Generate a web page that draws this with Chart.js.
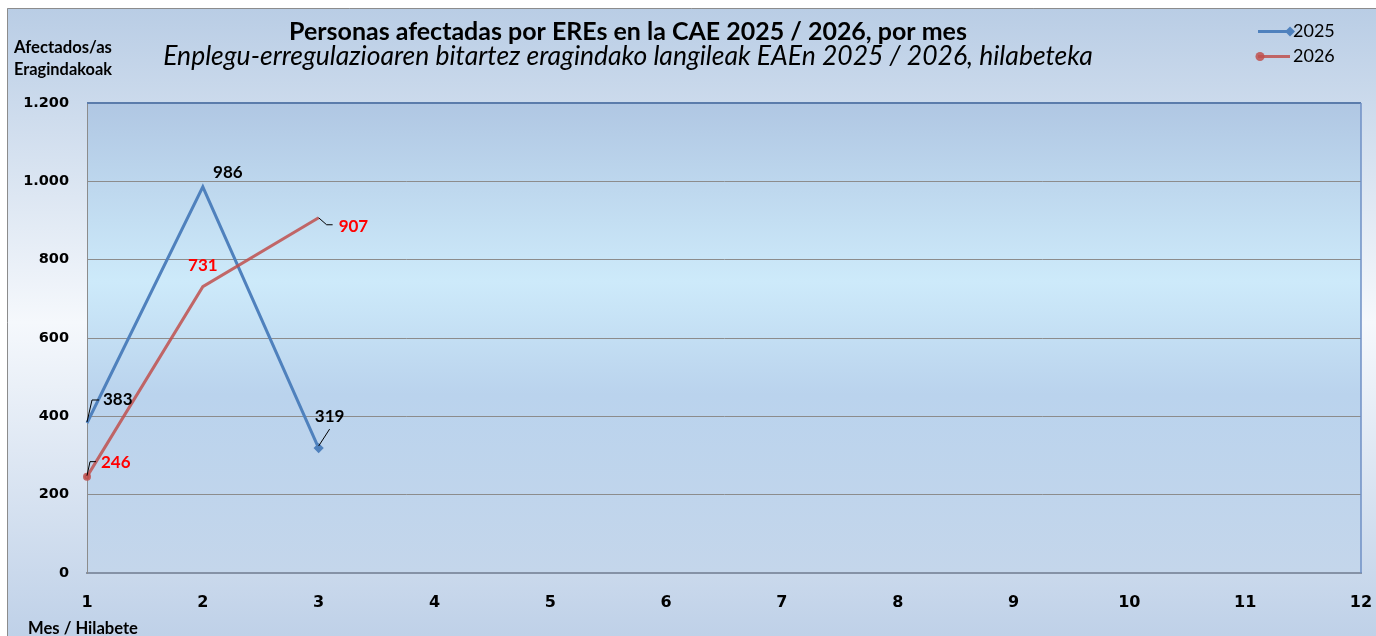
<!DOCTYPE html>
<html>
<head>
<meta charset="utf-8">
<script src="https://cdn.jsdelivr.net/npm/chart.js@4.4.1/dist/chart.umd.min.js"></script>
<style>
  html, body { margin: 0; padding: 0; background: #fff; }
  #wrap { width: 1376px; height: 636px; position: relative; }
</style>
</head>
<body>
<div id="wrap"><canvas id="chart" width="1376" height="636"></canvas></div>
<script>
// data
const months = ['1', '2', '3', '4', '5', '6', '7', '8', '9', '10', '11', '12'];
const yTicks = [0, 200, 400, 600, 800, 1000, 1200];
const seriesNames = ['2025', '2026'];
const values2025 = [383, 986, 319];
const values2026 = [246, 731, 907];

const titleText = 'Personas afectadas por EREs en la CAE 2025 / 2026, por mes';
const subtitleText = 'Enplegu-erregulazioaren bitartez eragindako langileak EAEn 2025 / 2026, hilabeteka';
const yTitleLines = ['Afectados/as', 'Eragindakoak'];
const xTitleText = 'Mes / Hilabete';

// label placement relative to each point (style only)
const labelPos2025 = [
  { dx: 16, dy: -23, align: 'left', leader: [[0, -1], [5, -23], [12, -23]] },
  { dx: 25, dy: -14, align: 'center' },
  { dx: 11, dy: -32, align: 'center', leader: [[0, -2], [11, -19]] }
];
const labelPos2026 = [
  { dx: 14, dy: -14, align: 'left', leader: [[0, -1], [3, -15], [9, -15]] },
  { dx: 0, dy: -21, align: 'center' },
  { dx: 20, dy: 9, align: 'left', leader: [[0, 0], [8, 7], [14, 7]] }
];
const labelColors = ['#000000', '#ff0000'];

const BLUE = '#4f81bd';
const RED = 'rgba(192,80,77,0.85)';
const CAL = 'Lato, "Open Sans", sans-serif';
const AX = '"DejaVu Sans", Verdana, sans-serif';

function fmt(v) {
  if (v >= 1000) return Math.floor(v / 1000) + '.' + String(v % 1000).padStart(3, '0');
  return String(v);
}

function fitText(ctx, text, style, target, cx, baseline, align) {
  ctx.font = style + ' 20px ' + CAL;
  const w = ctx.measureText(text).width;
  const size = 20 * target / w;
  ctx.font = style + ' ' + size.toFixed(2) + 'px ' + CAL;
  ctx.textAlign = align || 'center';
  ctx.textBaseline = 'alphabetic';
  ctx.fillText(text, cx, baseline);
}

const decor = {
  id: 'decor',
  beforeDraw(chart) {
    const { ctx, chartArea: a } = chart;
    ctx.save();
    ctx.fillStyle = '#ffffff';
    ctx.fillRect(0, 0, chart.width, chart.height);
    const g = ctx.createLinearGradient(0, 8, 0, 636);
    g.addColorStop(0, '#b9cde5');
    g.addColorStop(0.5, '#f5f8fc');
    g.addColorStop(1, '#bfd1e8');
    ctx.fillStyle = g;
    ctx.fillRect(7, 8, chart.width, chart.height);
    ctx.strokeStyle = '#8c8c8c';
    ctx.lineWidth = 1;
    ctx.beginPath();
    ctx.moveTo(7.5, chart.height);
    ctx.lineTo(7.5, 8.5);
    ctx.lineTo(chart.width, 8.5);
    ctx.stroke();

    const pg = ctx.createLinearGradient(0, a.top, 0, a.bottom);
    pg.addColorStop(0, '#b0c7e3');
    pg.addColorStop(0.38, '#cdeafa');
    pg.addColorStop(0.62, '#bad3ed');
    pg.addColorStop(1, '#c4d6eb');
    ctx.fillStyle = pg;
    ctx.fillRect(a.left, a.top, a.right - a.left, a.bottom - a.top);
    ctx.restore();
  },
  beforeDatasetsDraw(chart) {
    const { ctx, chartArea: a } = chart;
    ctx.save();
    ctx.strokeStyle = '#5b7cab';
    ctx.lineWidth = 2;
    ctx.beginPath();
    ctx.moveTo(a.left, a.top);
    ctx.lineTo(a.right, a.top);
    ctx.stroke();
    ctx.strokeStyle = '#6f8fc4';
    ctx.lineWidth = 1.5;
    ctx.beginPath();
    ctx.moveTo(a.right, a.top);
    ctx.lineTo(a.right, a.bottom);
    ctx.stroke();
    ctx.restore();
  },
  afterDatasetsDraw(chart) {
    const { ctx } = chart;
    const places = [labelPos2025, labelPos2026];
    ctx.save();
    chart.data.datasets.forEach((ds, i) => {
      const meta = chart.getDatasetMeta(i);
      meta.data.forEach((pt, j) => {
        const v = ds.data[j];
        if (v == null) return;
        const p = places[i][j];
        if (p.leader) {
          ctx.strokeStyle = '#000';
          ctx.lineWidth = 1;
          ctx.beginPath();
          p.leader.forEach(([lx, ly], k) => {
            if (k === 0) ctx.moveTo(pt.x + lx, pt.y + ly);
            else ctx.lineTo(pt.x + lx, pt.y + ly);
          });
          ctx.stroke();
        }
        ctx.fillStyle = labelColors[i];
        ctx.font = 'bold 17px ' + CAL;
        ctx.textAlign = p.align;
        ctx.textBaseline = 'middle';
        ctx.fillText(fmt(v), pt.x + p.dx, pt.y + p.dy);
      });
    });
    ctx.restore();
  },
  afterDraw(chart) {
    const { ctx } = chart;
    ctx.save();
    ctx.fillStyle = '#000';
    fitText(ctx, titleText, 'bold', 678, 628, 39.5);
    fitText(ctx, subtitleText, 'italic', 930, 628, 65);
    fitText(ctx, yTitleLines[0], 'bold', 98, 63, 53);
    fitText(ctx, yTitleLines[1], 'bold', 98, 63, 75);
    fitText(ctx, xTitleText, 'bold', 110, 83, 634);

    // legend
    const items = [
      { name: seriesNames[0], color: BLUE, y: 31.5, marker: 'diamond' },
      { name: seriesNames[1], color: RED, y: 56.5, marker: 'circle' }
    ];
    items.forEach(it => {
      ctx.strokeStyle = it.color;
      ctx.lineWidth = 3;
      ctx.beginPath();
      ctx.moveTo(1258, it.y);
      ctx.lineTo(1290, it.y);
      ctx.stroke();
      ctx.fillStyle = it.color;
      ctx.beginPath();
      if (it.marker === 'diamond') {
        ctx.moveTo(1290, it.y - 5);
        ctx.lineTo(1295, it.y);
        ctx.lineTo(1290, it.y + 5);
        ctx.lineTo(1285, it.y);
      } else {
        ctx.arc(1260, it.y, 4.5, 0, Math.PI * 2);
      }
      ctx.closePath();
      ctx.fill();
      ctx.fillStyle = '#000';
      ctx.font = '18px ' + CAL;
      ctx.textAlign = 'left';
      ctx.textBaseline = 'middle';
      ctx.fillText(it.name, 1293, it.y);
    });
    ctx.restore();
  }
};

const ctx = document.getElementById('chart').getContext('2d');
new Chart(ctx, {
  type: 'line',
  data: {
    labels: months,
    datasets: [
      {
        label: seriesNames[0],
        data: values2025,
        borderColor: BLUE,
        backgroundColor: BLUE,
        borderWidth: 3,
        pointStyle: 'rectRot',
        pointRadius: [0, 0, 3],
        tension: 0,
        order: 1
      },
      {
        label: seriesNames[1],
        data: values2026,
        borderColor: RED,
        backgroundColor: RED,
        borderWidth: 3,
        pointStyle: 'circle',
        pointRadius: [2.5, 0, 0],
        tension: 0,
        order: 0
      }
    ]
  },
  options: {
    responsive: false,
    animation: false,
    devicePixelRatio: 1,
    layout: { padding: { top: 103, right: 0, left: 0, bottom: 0 } },
    plugins: { legend: { display: false }, title: { display: false }, tooltip: { enabled: false } },
    scales: {
      x: {
        type: 'category',
        offset: false,
        afterFit(s) { s.height = 63; s.paddingRight = 15; },
        grid: { display: false, drawTicks: false },
        border: { display: true, color: '#8592a6', width: 2 },
        ticks: { color: '#000', font: { family: AX, weight: 'bold', size: 16 }, padding: 20, maxRotation: 0, autoSkip: false }
      },
      y: {
        min: yTicks[0],
        max: yTicks[yTicks.length - 1],
        afterFit(s) { s.width = 87; },
        afterBuildTicks(s) { s.ticks = yTicks.map(v => ({ value: v })); },
        grid: { color: '#8c8c8c', lineWidth: 1, drawTicks: false },
        border: { display: true, color: '#8c8c8c', width: 1 },
        ticks: { color: '#000', font: { family: AX, weight: 'bold', size: 14.5 }, padding: 18, callback: v => fmt(v) }
      }
    }
  },
  plugins: [decor]
});
</script>
</body>
</html>
